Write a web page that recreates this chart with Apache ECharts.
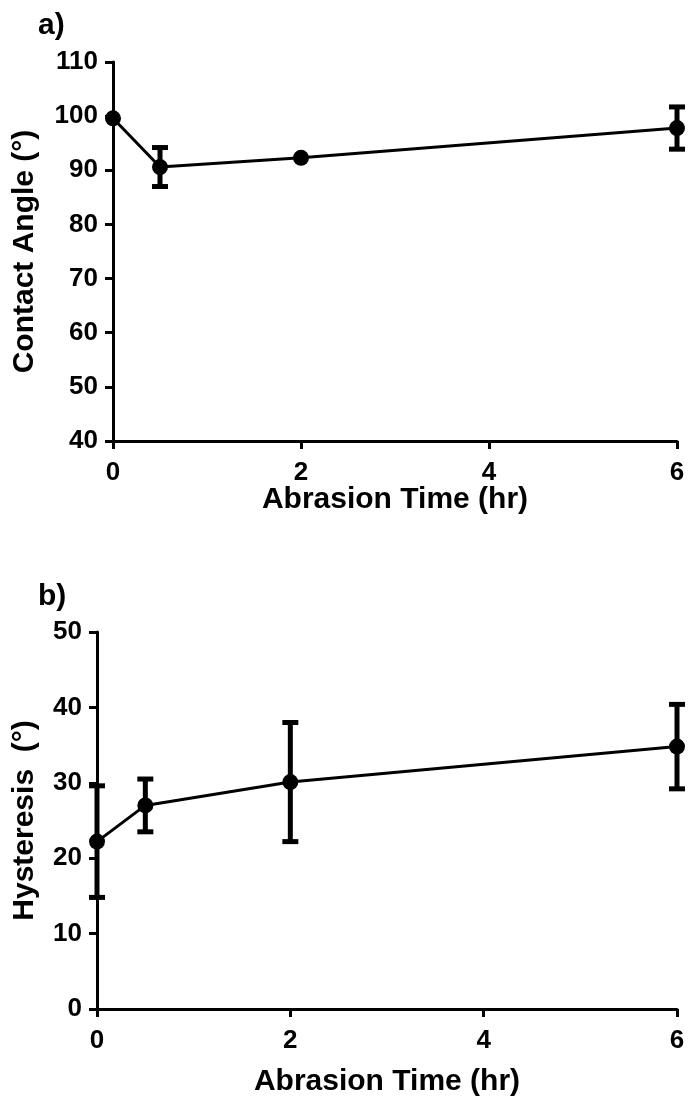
<!DOCTYPE html>
<html>
<head>
<meta charset="utf-8">
<script src="https://cdn.jsdelivr.net/npm/echarts@6/dist/echarts.min.js"></script>
<style>
  html, body { margin: 0; padding: 0; background: #fff; }
  #chart { width: 689px; height: 1104px; }
</style>
</head>
<body>
<div id="chart"></div>
<script>
// abrasion time (hr)
const times = [0, 0.5, 2, 6]
// a) contact angle, deg
const contactAngle = [99.6, 90.6, 92.3, 97.8]
const contactErr = [0, 3.6, 0, 3.9]
// b) hysteresis, deg
const hysteresis = [22.2, 27.0, 30.1, 34.8]
const hysteresisErr = [7.4, 3.5, 7.9, 5.6]

const FONT = 'Liberation Sans, Arial, sans-serif'

function pairs (vals) {
  return times.map((t, i) => [t, vals[i]])
}
function errRows (vals, errs) {
  return times.map((t, i) => [t, vals[i], errs[i]])
}

// draws vertical error bar with caps
function errorBar (params, api) {
  let e = api.value(2)
  if (!e) return null
  let x = api.value(0)
  let v = api.value(1)
  let top = api.coord([x, v + e])
  let bot = api.coord([x, v - e])
  let half = 8
  let style = { stroke: '#000', lineWidth: 5 }
  return {
    type: 'group',
    children: [
      { type: 'line', shape: { x1: top[0], y1: top[1], x2: bot[0], y2: bot[1] }, style: style },
      { type: 'line', shape: { x1: top[0] - half, y1: top[1], x2: top[0] + half, y2: top[1] }, style: style },
      { type: 'line', shape: { x1: bot[0] - half, y1: bot[1], x2: bot[0] + half, y2: bot[1] }, style: style }
    ]
  }
}

function xAxisOpt (idx, gap) {
  return {
    gridIndex: idx,
    type: 'value',
    min: 0,
    max: 6,
    interval: 2,
    name: 'Abrasion Time (hr)',
    nameLocation: 'middle',
    nameGap: gap,
    nameMoveOverlap: false,
    nameTextStyle: { fontFamily: FONT, fontWeight: 'bold', fontSize: 30, color: '#000' },
    axisLine: { onZero: false, lineStyle: { color: '#000', width: 3 } },
    axisTick: { length: 8, lineStyle: { color: '#000', width: 3 } },
    axisLabel: { margin: 19, fontFamily: FONT, fontWeight: 'bold', fontSize: 26, color: '#000' },
    splitLine: { show: false }
  }
}

function yAxisOpt (idx, name, min, max, gap) {
  return {
    gridIndex: idx,
    type: 'value',
    min: min,
    max: max,
    interval: 10,
    name: name,
    nameLocation: 'middle',
    nameGap: gap,
    nameTextStyle: { fontFamily: FONT, fontWeight: 'bold', fontSize: 30, color: '#000' },
    axisLine: { lineStyle: { color: '#000', width: 3 } },
    axisTick: { length: 8, lineStyle: { color: '#000', width: 3 } },
    axisLabel: { margin: 15, fontFamily: FONT, fontWeight: 'bold', fontSize: 26, color: '#000' },
    splitLine: { show: false }
  }
}

function lineSeries (idx, vals) {
  return {
    type: 'line',
    xAxisIndex: idx,
    yAxisIndex: idx,
    data: pairs(vals),
    symbol: 'circle',
    symbolSize: 16,
    clip: false,
    itemStyle: { color: '#000' },
    lineStyle: { color: '#000', width: 3 },
    z: 3
  }
}

function errSeries (idx, vals, errs) {
  return {
    type: 'custom',
    xAxisIndex: idx,
    yAxisIndex: idx,
    data: errRows(vals, errs),
    renderItem: errorBar,
    clip: false,
    z: 2
  }
}

const chart = echarts.init(document.getElementById('chart'))
chart.setOption({
  animation: false,
  backgroundColor: '#fff',
  title: [
    { text: 'a)', left: 33, top: 6, textStyle: { fontFamily: FONT, fontWeight: 'bold', fontSize: 30, color: '#000' } },
    { text: 'b)', left: 33, top: 577, textStyle: { fontFamily: FONT, fontWeight: 'bold', fontSize: 30, color: '#000' } }
  ],
  grid: [
    { left: 113, top: 62, right: 12, height: 379 },
    { left: 97, top: 632, right: 12, height: 377 }
  ],
  xAxis: [xAxisOpt(0, 44), xAxisOpt(1, 58)],
  yAxis: [
    yAxisOpt(0, 'Contact Angle (\u00b0)', 40, 110, 73),
    yAxisOpt(1, 'Hysteresis  (\u00b0)', 0, 50, 57)
  ],
  series: [
    errSeries(0, contactAngle, contactErr),
    lineSeries(0, contactAngle),
    errSeries(1, hysteresis, hysteresisErr),
    lineSeries(1, hysteresis)
  ]
})
</script>
</body>
</html>
